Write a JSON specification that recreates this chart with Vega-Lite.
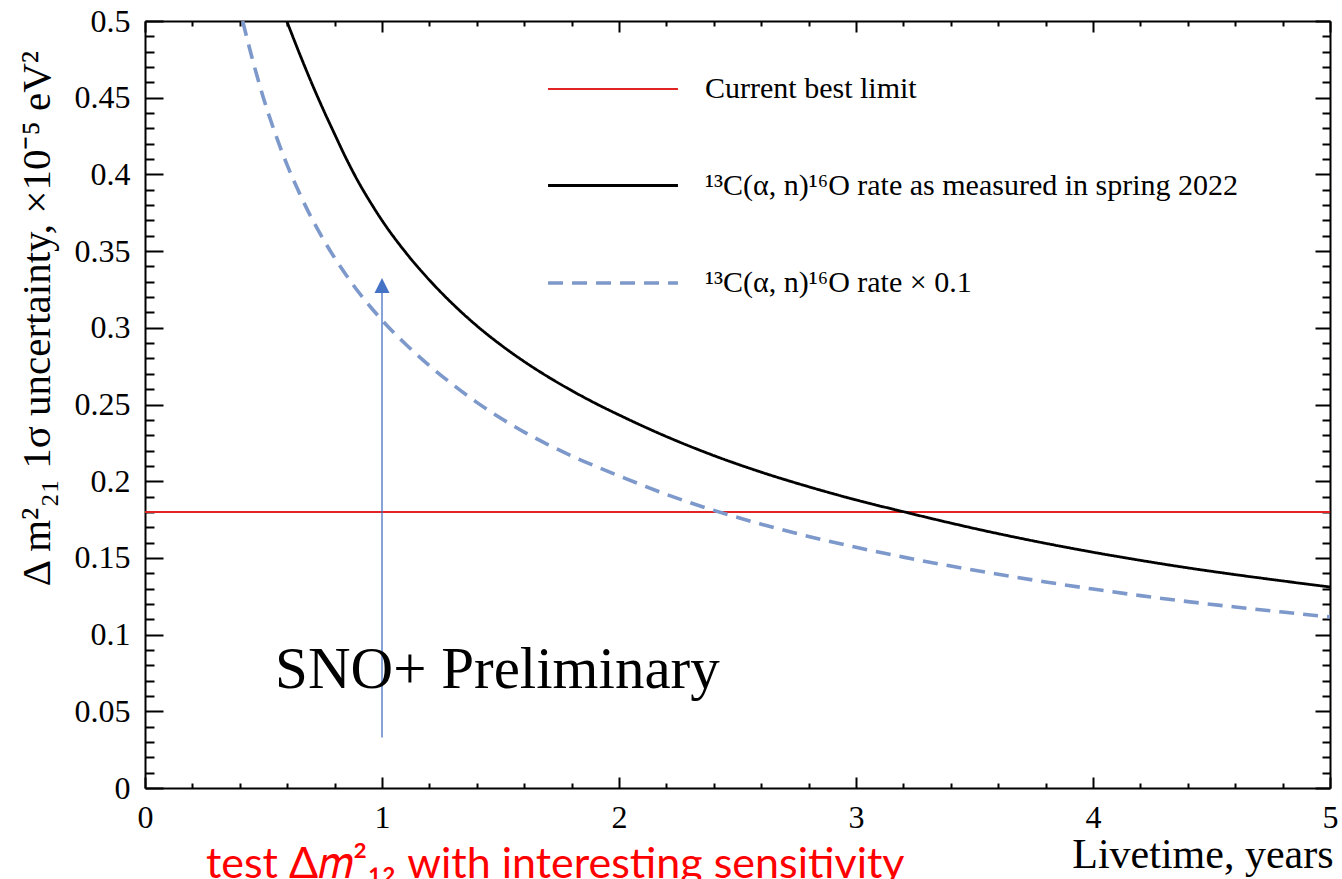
{
  "$schema": "https://vega.github.io/schema/vega-lite/v6.json",
  "width": 1185,
  "height": 767,
  "autosize": {"type": "none"},
  "padding": {"left": 145, "top": 21, "right": 12, "bottom": 91},
  "background": "white",
  "config": {"view": {"stroke": null}, "font": "Liberation Serif"},
  "datasets": {
    "curves": [
      {"t": 0, "v": 0.18, "s": "Current best limit"},
      {"t": 5, "v": 0.18, "s": "Current best limit"},
      {"t": 0.598, "v": 0.5, "s": "¹³C(α, n)¹⁶O rate as measured in spring 2022"},
      {"t": 0.65, "v": 0.4795, "s": "¹³C(α, n)¹⁶O rate as measured in spring 2022"},
      {"t": 0.70, "v": 0.4607, "s": "¹³C(α, n)¹⁶O rate as measured in spring 2022"},
      {"t": 0.75, "v": 0.443, "s": "¹³C(α, n)¹⁶O rate as measured in spring 2022"},
      {"t": 0.80, "v": 0.4263, "s": "¹³C(α, n)¹⁶O rate as measured in spring 2022"},
      {"t": 0.85, "v": 0.410, "s": "¹³C(α, n)¹⁶O rate as measured in spring 2022"},
      {"t": 0.90, "v": 0.3952, "s": "¹³C(α, n)¹⁶O rate as measured in spring 2022"},
      {"t": 0.95, "v": 0.3821, "s": "¹³C(α, n)¹⁶O rate as measured in spring 2022"},
      {"t": 1.00, "v": 0.370, "s": "¹³C(α, n)¹⁶O rate as measured in spring 2022"},
      {"t": 1.10, "v": 0.3491, "s": "¹³C(α, n)¹⁶O rate as measured in spring 2022"},
      {"t": 1.20, "v": 0.3311, "s": "¹³C(α, n)¹⁶O rate as measured in spring 2022"},
      {"t": 1.30, "v": 0.3153, "s": "¹³C(α, n)¹⁶O rate as measured in spring 2022"},
      {"t": 1.40, "v": 0.3013, "s": "¹³C(α, n)¹⁶O rate as measured in spring 2022"},
      {"t": 1.50, "v": 0.289, "s": "¹³C(α, n)¹⁶O rate as measured in spring 2022"},
      {"t": 1.60, "v": 0.278, "s": "¹³C(α, n)¹⁶O rate as measured in spring 2022"},
      {"t": 1.70, "v": 0.2681, "s": "¹³C(α, n)¹⁶O rate as measured in spring 2022"},
      {"t": 1.80, "v": 0.2591, "s": "¹³C(α, n)¹⁶O rate as measured in spring 2022"},
      {"t": 1.90, "v": 0.2508, "s": "¹³C(α, n)¹⁶O rate as measured in spring 2022"},
      {"t": 2.00, "v": 0.2432, "s": "¹³C(α, n)¹⁶O rate as measured in spring 2022"},
      {"t": 2.20, "v": 0.2291, "s": "¹³C(α, n)¹⁶O rate as measured in spring 2022"},
      {"t": 2.40, "v": 0.2167, "s": "¹³C(α, n)¹⁶O rate as measured in spring 2022"},
      {"t": 2.60, "v": 0.2059, "s": "¹³C(α, n)¹⁶O rate as measured in spring 2022"},
      {"t": 2.80, "v": 0.1964, "s": "¹³C(α, n)¹⁶O rate as measured in spring 2022"},
      {"t": 3.00, "v": 0.1878, "s": "¹³C(α, n)¹⁶O rate as measured in spring 2022"},
      {"t": 3.20, "v": 0.1801, "s": "¹³C(α, n)¹⁶O rate as measured in spring 2022"},
      {"t": 3.40, "v": 0.1727, "s": "¹³C(α, n)¹⁶O rate as measured in spring 2022"},
      {"t": 3.60, "v": 0.1658, "s": "¹³C(α, n)¹⁶O rate as measured in spring 2022"},
      {"t": 3.80, "v": 0.1595, "s": "¹³C(α, n)¹⁶O rate as measured in spring 2022"},
      {"t": 4.00, "v": 0.1537, "s": "¹³C(α, n)¹⁶O rate as measured in spring 2022"},
      {"t": 4.20, "v": 0.1484, "s": "¹³C(α, n)¹⁶O rate as measured in spring 2022"},
      {"t": 4.40, "v": 0.1435, "s": "¹³C(α, n)¹⁶O rate as measured in spring 2022"},
      {"t": 4.60, "v": 0.1391, "s": "¹³C(α, n)¹⁶O rate as measured in spring 2022"},
      {"t": 4.80, "v": 0.135, "s": "¹³C(α, n)¹⁶O rate as measured in spring 2022"},
      {"t": 5.00, "v": 0.131, "s": "¹³C(α, n)¹⁶O rate as measured in spring 2022"},
      {"t": 0.412, "v": 0.5, "s": "¹³C(α, n)¹⁶O rate × 0.1"},
      {"t": 0.45, "v": 0.477, "s": "¹³C(α, n)¹⁶O rate × 0.1"},
      {"t": 0.50, "v": 0.4497, "s": "¹³C(α, n)¹⁶O rate × 0.1"},
      {"t": 0.55, "v": 0.4264, "s": "¹³C(α, n)¹⁶O rate × 0.1"},
      {"t": 0.60, "v": 0.406, "s": "¹³C(α, n)¹⁶O rate × 0.1"},
      {"t": 0.65, "v": 0.3883, "s": "¹³C(α, n)¹⁶O rate × 0.1"},
      {"t": 0.70, "v": 0.3724, "s": "¹³C(α, n)¹⁶O rate × 0.1"},
      {"t": 0.75, "v": 0.3583, "s": "¹³C(α, n)¹⁶O rate × 0.1"},
      {"t": 0.80, "v": 0.3456, "s": "¹³C(α, n)¹⁶O rate × 0.1"},
      {"t": 0.85, "v": 0.3341, "s": "¹³C(α, n)¹⁶O rate × 0.1"},
      {"t": 0.90, "v": 0.3235, "s": "¹³C(α, n)¹⁶O rate × 0.1"},
      {"t": 0.95, "v": 0.3139, "s": "¹³C(α, n)¹⁶O rate × 0.1"},
      {"t": 1.00, "v": 0.305, "s": "¹³C(α, n)¹⁶O rate × 0.1"},
      {"t": 1.10, "v": 0.2893, "s": "¹³C(α, n)¹⁶O rate × 0.1"},
      {"t": 1.20, "v": 0.2753, "s": "¹³C(α, n)¹⁶O rate × 0.1"},
      {"t": 1.30, "v": 0.2628, "s": "¹³C(α, n)¹⁶O rate × 0.1"},
      {"t": 1.40, "v": 0.2514, "s": "¹³C(α, n)¹⁶O rate × 0.1"},
      {"t": 1.50, "v": 0.2412, "s": "¹³C(α, n)¹⁶O rate × 0.1"},
      {"t": 1.60, "v": 0.2320, "s": "¹³C(α, n)¹⁶O rate × 0.1"},
      {"t": 1.70, "v": 0.2239, "s": "¹³C(α, n)¹⁶O rate × 0.1"},
      {"t": 1.80, "v": 0.2165, "s": "¹³C(α, n)¹⁶O rate × 0.1"},
      {"t": 1.90, "v": 0.2098, "s": "¹³C(α, n)¹⁶O rate × 0.1"},
      {"t": 2.00, "v": 0.2035, "s": "¹³C(α, n)¹⁶O rate × 0.1"},
      {"t": 2.20, "v": 0.1914, "s": "¹³C(α, n)¹⁶O rate × 0.1"},
      {"t": 2.40, "v": 0.1810, "s": "¹³C(α, n)¹⁶O rate × 0.1"},
      {"t": 2.60, "v": 0.1720, "s": "¹³C(α, n)¹⁶O rate × 0.1"},
      {"t": 2.80, "v": 0.1640, "s": "¹³C(α, n)¹⁶O rate × 0.1"},
      {"t": 3.00, "v": 0.1569, "s": "¹³C(α, n)¹⁶O rate × 0.1"},
      {"t": 3.20, "v": 0.1505, "s": "¹³C(α, n)¹⁶O rate × 0.1"},
      {"t": 3.40, "v": 0.1447, "s": "¹³C(α, n)¹⁶O rate × 0.1"},
      {"t": 3.60, "v": 0.1393, "s": "¹³C(α, n)¹⁶O rate × 0.1"},
      {"t": 3.80, "v": 0.1343, "s": "¹³C(α, n)¹⁶O rate × 0.1"},
      {"t": 4.00, "v": 0.1297, "s": "¹³C(α, n)¹⁶O rate × 0.1"},
      {"t": 4.20, "v": 0.1254, "s": "¹³C(α, n)¹⁶O rate × 0.1"},
      {"t": 4.40, "v": 0.1215, "s": "¹³C(α, n)¹⁶O rate × 0.1"},
      {"t": 4.60, "v": 0.1180, "s": "¹³C(α, n)¹⁶O rate × 0.1"},
      {"t": 4.80, "v": 0.1147, "s": "¹³C(α, n)¹⁶O rate × 0.1"},
      {"t": 5.00, "v": 0.1115, "s": "¹³C(α, n)¹⁶O rate × 0.1"}
    ],
    "arrow": [{"t": 1, "v0": 0.033, "v1": 0.323}],
    "head": [{"t": 1, "v": 0.3275}],
    "notes": [{"t": 0.549, "v": 0.065, "label": "SNO+ Preliminary"}],
    "bottomnote": [{"t": 0.257, "v": -0.0589, "label": "test Δ𝑚²₁₂ with interesting sensitivity"}]
  },
  "layer": [
    {
      "data": {"name": "curves"},
      "mark": {"type": "line", "clip": true, "interpolate": "monotone"},
      "encoding": {
        "x": {
          "field": "t", "type": "quantitative",
          "scale": {"domain": [0, 5], "nice": false, "zero": false},
          "axis": {
            "orient": "bottom",
            "values": [0, 0.2, 0.4, 0.6, 0.8, 1, 1.2, 1.4, 1.6, 1.8, 2, 2.2, 2.4, 2.6, 2.8, 3, 3.2, 3.4, 3.6, 3.8, 4, 4.2, 4.4, 4.6, 4.8, 5],
            "grid": false,
            "domainColor": "black", "domainWidth": 2,
            "tickColor": "black", "tickWidth": 2,
            "tickSize": {"condition": {"test": "datum.value % 1 === 0", "value": -11}, "value": -5},
            "labelExpr": "datum.value % 1 === 0 ? format(datum.value, 'd') : ''",
            "labelFont": "Liberation Serif", "labelFontSize": 32, "labelColor": "black",
            "labelPadding": 25, "labelFlush": false, "labelOverlap": false,
            "title": "Livetime, years",
            "titleFont": "Liberation Serif", "titleFontSize": 42, "titleFontWeight": "normal", "titleColor": "black",
            "titleAlign": "right", "titleBaseline": "alphabetic", "titleX": 1188, "titleY": 79
          }
        },
        "y": {
          "field": "v", "type": "quantitative",
          "scale": {"domain": [0, 0.5], "nice": false},
          "axis": {
            "orient": "left",
            "values": [0, 0.01, 0.02, 0.03, 0.04, 0.05, 0.06, 0.07, 0.08, 0.09, 0.1, 0.11, 0.12, 0.13, 0.14, 0.15, 0.16, 0.17, 0.18, 0.19, 0.2, 0.21, 0.22, 0.23, 0.24, 0.25, 0.26, 0.27, 0.28, 0.29, 0.3, 0.31, 0.32, 0.33, 0.34, 0.35, 0.36, 0.37, 0.38, 0.39, 0.4, 0.41, 0.42, 0.43, 0.44, 0.45, 0.46, 0.47, 0.48, 0.49, 0.5],
            "grid": false,
            "domainColor": "black", "domainWidth": 2,
            "tickColor": "black", "tickWidth": 2,
            "tickSize": {"condition": {"test": "round(datum.value * 100) % 5 === 0", "value": -18}, "value": -9},
            "labelExpr": "round(datum.value * 100) % 5 === 0 ? format(datum.value, '~g') : ''",
            "labelFont": "Liberation Serif", "labelFontSize": 32, "labelColor": "black",
            "labelPadding": 33, "labelFlush": false, "labelOverlap": false,
            "title": "Δ m²₂₁ 1σ uncertainty, ×10⁻⁵ eV²",
            "titleFont": "Liberation Serif", "titleFontSize": 41, "titleFontWeight": "normal", "titleColor": "black",
            "titleAngle": -90, "titleAlign": "center", "titleBaseline": "middle", "titleX": -108, "titleY": 297
          }
        },
        "color": {
          "field": "s", "type": "nominal",
          "scale": {
            "domain": ["Current best limit", "¹³C(α, n)¹⁶O rate as measured in spring 2022", "¹³C(α, n)¹⁶O rate × 0.1"],
            "range": ["#e02424", "#000000", "#7d98ca"]
          },
          "legend": {
            "orient": "none", "legendX": 452, "legendY": 53, "title": null,
            "symbolType": "M-4.64,0L4.64,0", "symbolSize": 784, "padding": 0,
            "labelFont": "Liberation Serif", "labelFontSize": 30, "labelColor": "black", "labelLimit": 0,
            "labelOffset": 76, "rowPadding": 66
          }
        },
        "strokeDash": {
          "field": "s", "type": "nominal",
          "scale": {
            "domain": ["Current best limit", "¹³C(α, n)¹⁶O rate as measured in spring 2022", "¹³C(α, n)¹⁶O rate × 0.1"],
            "range": [[1, 0], [1, 0], [15, 9]]
          },
          "legend": {
            "orient": "none", "legendX": 452, "legendY": 53, "title": null,
            "symbolType": "M-4.64,0L4.64,0", "symbolSize": 784, "padding": 0,
            "labelFont": "Liberation Serif", "labelFontSize": 30, "labelColor": "black", "labelLimit": 0,
            "labelOffset": 76, "rowPadding": 66
          }
        },
        "strokeWidth": {
          "field": "s", "type": "nominal",
          "scale": {
            "domain": ["Current best limit", "¹³C(α, n)¹⁶O rate as measured in spring 2022", "¹³C(α, n)¹⁶O rate × 0.1"],
            "range": [2, 3.6, 3.6]
          },
          "legend": {
            "orient": "none", "legendX": 452, "legendY": 53, "title": null,
            "symbolType": "M-4.64,0L4.64,0", "symbolSize": 784, "padding": 0,
            "labelFont": "Liberation Serif", "labelFontSize": 30, "labelColor": "black", "labelLimit": 0,
            "labelOffset": 76, "rowPadding": 66
          }
        }
      }
    },
    {
      "data": {"name": "arrow"},
      "mark": {"type": "rule", "color": "#4472c4", "strokeWidth": 1.3},
      "encoding": {
        "x": {
          "field": "t", "type": "quantitative",
          "scale": {"domain": [0, 5], "nice": false, "zero": false},
          "axis": {
            "orient": "top",
            "values": [0, 0.2, 0.4, 0.6, 0.8, 1, 1.2, 1.4, 1.6, 1.8, 2, 2.2, 2.4, 2.6, 2.8, 3, 3.2, 3.4, 3.6, 3.8, 4, 4.2, 4.4, 4.6, 4.8, 5],
            "grid": false, "labels": false, "title": null,
            "domainColor": "black", "domainWidth": 2,
            "tickColor": "black", "tickWidth": 2,
            "tickSize": {"condition": {"test": "datum.value % 1 === 0", "value": -11}, "value": -5}
          }
        },
        "y": {
          "field": "v0", "type": "quantitative",
          "scale": {"domain": [0, 0.5], "nice": false},
          "axis": {
            "orient": "right",
            "values": [0, 0.01, 0.02, 0.03, 0.04, 0.05, 0.06, 0.07, 0.08, 0.09, 0.1, 0.11, 0.12, 0.13, 0.14, 0.15, 0.16, 0.17, 0.18, 0.19, 0.2, 0.21, 0.22, 0.23, 0.24, 0.25, 0.26, 0.27, 0.28, 0.29, 0.3, 0.31, 0.32, 0.33, 0.34, 0.35, 0.36, 0.37, 0.38, 0.39, 0.4, 0.41, 0.42, 0.43, 0.44, 0.45, 0.46, 0.47, 0.48, 0.49, 0.5],
            "grid": false, "labels": false, "title": null,
            "domainColor": "black", "domainWidth": 2,
            "tickColor": "black", "tickWidth": 2,
            "tickSize": {"condition": {"test": "round(datum.value * 100) % 5 === 0", "value": -15}, "value": -8}
          }
        },
        "y2": {"field": "v1"}
      }
    },
    {
      "data": {"name": "head"},
      "mark": {"type": "point", "shape": "M-1,1L1,1L0,-1Z", "filled": true, "color": "#4472c4", "size": 225, "opacity": 1},
      "encoding": {
        "x": {"field": "t", "type": "quantitative", "axis": null},
        "y": {"field": "v", "type": "quantitative", "axis": null}
      }
    },
    {
      "data": {"name": "notes"},
      "mark": {"type": "text", "font": "Liberation Serif", "fontSize": 59, "align": "left", "baseline": "alphabetic", "color": "black"},
      "encoding": {
        "x": {"field": "t", "type": "quantitative", "axis": null},
        "y": {"field": "v", "type": "quantitative", "axis": null},
        "text": {"field": "label"}
      }
    },
    {
      "data": {"name": "bottomnote"},
      "mark": {"type": "text", "font": "Lato", "fontSize": 43, "align": "left", "baseline": "alphabetic", "color": "#ff0000"},
      "encoding": {
        "x": {"field": "t", "type": "quantitative", "axis": null},
        "y": {"field": "v", "type": "quantitative", "axis": null},
        "text": {"field": "label"}
      }
    }
  ],
  "resolve": {"axis": {"x": "independent", "y": "independent"}}
}
